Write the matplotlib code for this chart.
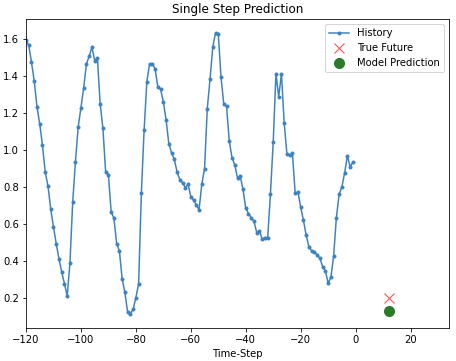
import matplotlib
matplotlib.use("Agg")
import matplotlib.pyplot as plt
import numpy as np

history = [
    1.598, 1.567, 1.476, 1.373, 1.234, 1.142, 1.025, 0.881, 0.805, 0.681,
    0.584, 0.493, 0.411, 0.339, 0.276, 0.209, 0.389, 0.717, 0.937, 1.126,
    1.229, 1.337, 1.467, 1.508, 1.558, 1.485, 1.499, 1.250, 1.117, 0.881,
    0.867, 0.665, 0.631, 0.493, 0.454, 0.303, 0.229, 0.122, 0.112, 0.137,
    0.200, 0.276, 0.768, 1.108, 1.371, 1.467, 1.467, 1.440, 1.342, 1.330,
    1.261, 1.164, 1.034, 0.984, 0.950, 0.881, 0.840, 0.823, 0.796, 0.815,
    0.748, 0.728, 0.704, 0.676, 0.815, 0.899, 1.225, 1.385, 1.558, 1.634,
    1.631, 1.395, 1.250, 1.238, 1.049, 0.959, 0.919, 0.850, 0.858, 0.787,
    0.685, 0.656, 0.634, 0.614, 0.553, 0.562, 0.517, 0.526, 0.526, 0.764,
    1.043, 1.414, 1.288, 1.414, 1.146, 0.977, 0.971, 0.982, 0.766, 0.773,
    0.692, 0.620, 0.539, 0.476, 0.454, 0.449, 0.432, 0.414, 0.369, 0.346,
    0.279, 0.310, 0.426, 0.634, 0.760, 0.800, 0.876, 0.969, 0.910, 0.933,
]
time_steps = list(range(-len(history), 0))
future_step = 12
true_future = [0.198]
model_prediction = [0.130]

W, H = 456, 361
fig = plt.figure(figsize=(W / 72, H / 72), dpi=72)
ax = fig.add_axes([26 / W, 1 - 328 / H, (449 - 26) / W, (328 - 19) / H])

ax.plot(time_steps, history, '.-', color='#3d82c0', label='History')
ax.plot([future_step], true_future, 'x', color='#f05a5a', markersize=10,
        markeredgewidth=1.1, label='True Future')
ax.plot([future_step], model_prediction, 'o', color='#2a7a2a', markersize=10,
        label='Model Prediction')
ax.legend()
ax.set_xlim([time_steps[0], (future_step + 5) * 2])
ax.set_title('Single Step Prediction')
ax.set_xlabel('Time-Step')

fig.savefig('out.png', dpi=72)
